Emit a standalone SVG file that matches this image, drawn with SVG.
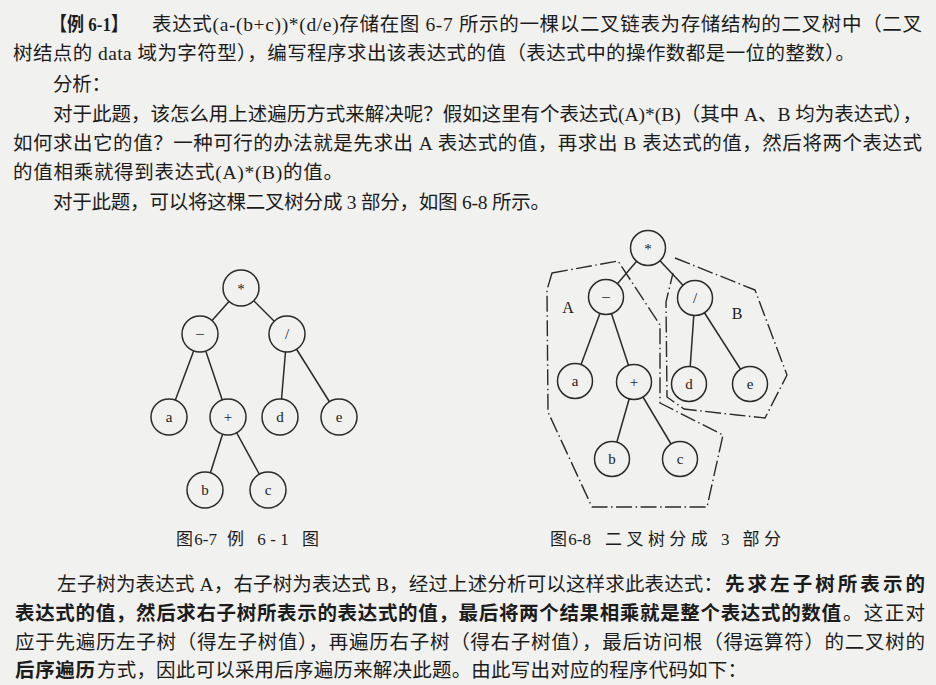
<svg xmlns="http://www.w3.org/2000/svg" width="936" height="685" viewBox="0 0 936 685">
<style>
.bg{fill:#f1f1ef}
.t{font-family:"Liberation Serif","Noto Sans CJK SC",serif;font-size:19.5px;fill:#1c1c1c}
.b{font-weight:bold}
.cap{font-family:"Liberation Serif","Noto Sans CJK SC",serif;font-size:17px;fill:#1c1c1c}
.tight{word-spacing:-3px}
.edge{stroke:#2a2a2a;stroke-width:1.5;fill:none}
.node circle{fill:#f1f1ef;stroke:#2a2a2a;stroke-width:1.5}
.node text{font-family:"Liberation Serif",serif;font-size:15px;fill:#222;text-anchor:middle}
.outline{fill:none;stroke:#2a2a2a;stroke-width:1.4;stroke-dasharray:16 3.5 1.5 3.5;stroke-linejoin:round}
.lbl{font-family:"Liberation Serif",serif;font-size:16px;fill:#222;text-anchor:middle}
</style>
<rect class="bg" x="0" y="0" width="936" height="685"/>

<!-- top paragraph -->
<g id="text-top">
<text class="t b" x="50" y="31" textLength="78" lengthAdjust="spacingAndGlyphs">【例 6-1】</text>
<text class="t" x="152" y="31" textLength="770" lengthAdjust="spacing">表达式(a-(b+c))*(d/e)存储在图 6-7 所示的一棵以二叉链表为存储结构的二叉树中（二叉</text>
<text class="t" x="13" y="60" textLength="842" lengthAdjust="spacing">树结点的 data 域为字符型），编写程序求出该表达式的值（表达式中的操作数都是一位的整数）。</text>
<text class="t" x="53" y="91" textLength="58" lengthAdjust="spacing">分析：</text>
<text class="t" x="53" y="121" textLength="869" lengthAdjust="spacing">对于此题，该怎么用上述遍历方式来解决呢？假如这里有个表达式(A)*(B)（其中 A、B 均为表达式），</text>
<text class="t" x="13" y="150" textLength="909" lengthAdjust="spacing">如何求出它的值？一种可行的办法就是先求出 A 表达式的值，再求出 B 表达式的值，然后将两个表达式</text>
<text class="t" x="13" y="179" textLength="330" lengthAdjust="spacing">的值相乘就得到表达式(A)*(B)的值。</text>
<text class="t" x="53" y="209" textLength="497" lengthAdjust="spacing">对于此题，可以将这棵二叉树分成 3 部分，如图 6-8 所示。</text>
</g>

<!-- Figure 6-7 -->
<g id="fig67-connectors">
<line class="edge" x1="241" y1="288" x2="200" y2="334"/>
<line class="edge" x1="241" y1="288" x2="287" y2="334"/>
<line class="edge" x1="200" y1="334" x2="169" y2="417"/>
<line class="edge" x1="200" y1="334" x2="228" y2="417"/>
<line class="edge" x1="287" y1="334" x2="280" y2="417"/>
<line class="edge" x1="287" y1="334" x2="339" y2="417"/>
<line class="edge" x1="228" y1="417" x2="205" y2="490"/>
<line class="edge" x1="228" y1="417" x2="268" y2="490"/>
</g>
<g id="f67-mul" class="node"><circle cx="241" cy="288" r="18"/><text x="241" y="294">*</text></g>
<g id="f67-minus" class="node"><circle cx="200" cy="334" r="18"/><text x="200" y="338">–</text></g>
<g id="f67-div" class="node"><circle cx="287" cy="334" r="18"/><text x="287" y="339">/</text></g>
<g id="f67-a" class="node"><circle cx="169" cy="417" r="18"/><text x="169" y="422">a</text></g>
<g id="f67-plus" class="node"><circle cx="228" cy="417" r="18"/><text x="228" y="422">+</text></g>
<g id="f67-d" class="node"><circle cx="280" cy="417" r="18"/><text x="280" y="422">d</text></g>
<g id="f67-e" class="node"><circle cx="339" cy="417" r="18"/><text x="339" y="422">e</text></g>
<g id="f67-b" class="node"><circle cx="205" cy="490" r="18"/><text x="205" y="495">b</text></g>
<g id="f67-c" class="node"><circle cx="268" cy="490" r="18"/><text x="268" y="495">c</text></g>
<g id="caption-67">
<text class="cap tight" x="176" y="545">图 6-7</text>
<text class="cap" x="227" y="545" textLength="92" lengthAdjust="spacing">例 6-1 图</text>
</g>

<!-- Figure 6-8 -->
<g id="fig68-outlines">
<polygon class="outline" points="552,273 618,261 660,325 660,403 723,435 707,507 592,507 548,412 547,290"/>
<polyline class="outline" points="675,258 755,290 787,375 765,418 737,415 684,409 667,397 666,302 673,273"/>
</g>
<g id="fig68-connectors">
<line class="edge" x1="648" y1="248" x2="606" y2="297"/>
<line class="edge" x1="648" y1="248" x2="695" y2="298"/>
<line class="edge" x1="606" y1="297" x2="575" y2="381"/>
<line class="edge" x1="606" y1="297" x2="634" y2="382"/>
<line class="edge" x1="695" y1="298" x2="689" y2="384"/>
<line class="edge" x1="695" y1="298" x2="750" y2="384"/>
<line class="edge" x1="634" y1="382" x2="612" y2="459"/>
<line class="edge" x1="634" y1="382" x2="680" y2="459"/>
</g>
<g id="f68-mul" class="node"><circle cx="648" cy="248" r="17.5"/><text x="648" y="254">*</text></g>
<g id="f68-minus" class="node"><circle cx="606" cy="297" r="17.5"/><text x="606" y="301">–</text></g>
<g id="f68-div" class="node"><circle cx="695" cy="298" r="17.5"/><text x="695" y="303">/</text></g>
<g id="f68-a" class="node"><circle cx="575" cy="381" r="17.5"/><text x="575" y="386">a</text></g>
<g id="f68-plus" class="node"><circle cx="634" cy="382" r="17.5"/><text x="634" y="387">+</text></g>
<g id="f68-d" class="node"><circle cx="689" cy="384" r="17.5"/><text x="689" y="389">d</text></g>
<g id="f68-e" class="node"><circle cx="750" cy="384" r="17.5"/><text x="750" y="389">e</text></g>
<g id="f68-b" class="node"><circle cx="612" cy="459" r="17.5"/><text x="612" y="464">b</text></g>
<g id="f68-c" class="node"><circle cx="680" cy="459" r="17.5"/><text x="680" y="464">c</text></g>
<text class="lbl" x="568" y="313">A</text>
<text class="lbl" x="737" y="319">B</text>
<g id="caption-68">
<text class="cap tight" x="550" y="545">图 6-8</text>
<text class="cap" x="605" y="545" textLength="176" lengthAdjust="spacing">二叉树分成 3 部分</text>
</g>

<!-- bottom paragraph -->
<g id="text-bottom">
<text class="t" x="57" y="591" textLength="666" lengthAdjust="spacing">左子树为表达式 A，右子树为表达式 B，经过上述分析可以这样求此表达式：</text>
<text class="t b" x="725" y="591" textLength="200" lengthAdjust="spacing">先求左子树所表示的</text>
<text class="t b" x="15" y="620" textLength="826" lengthAdjust="spacing">表达式的值，然后求右子树所表示的表达式的值，最后将两个结果相乘就是整个表达式的数值</text>
<text class="t" x="843" y="620" textLength="82" lengthAdjust="spacing">。这正对</text>
<text class="t" x="15" y="649" textLength="910" lengthAdjust="spacing">应于先遍历左子树（得左子树值），再遍历右子树（得右子树值），最后访问根（得运算符）的二叉树的</text>
<text class="t b" x="15" y="677" textLength="80" lengthAdjust="spacing">后序遍历</text>
<text class="t" x="97" y="677" textLength="650" lengthAdjust="spacing">方式，因此可以采用后序遍历来解决此题。由此写出对应的程序代码如下：</text>
</g>
</svg>
